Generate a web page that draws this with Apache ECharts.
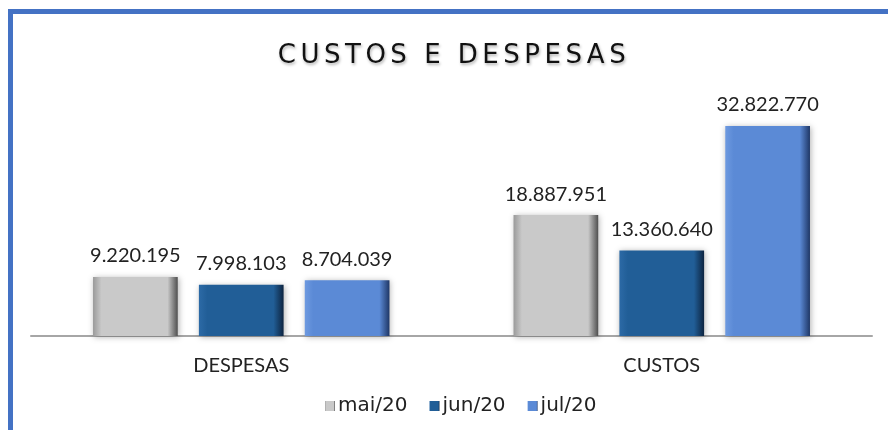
<!DOCTYPE html>
<html>
<head>
<meta charset="utf-8">
<script src="https://cdn.jsdelivr.net/npm/echarts@6/dist/echarts.min.js"></script>
<style>
  body { margin: 0; background: #fff; }
  #wrap { position: relative; width: 888px; height: 430px; overflow: hidden; }
  #frame { position: absolute; left: 8px; top: 9px; width: 900px; height: 440px;
           border-left: 5px solid #4472c4; border-top: 5px solid #4472c4; }
  #title { position: absolute; left: 18px; top: 38px; width: 872px; text-align: center;
           font-family: 'DejaVu Sans', sans-serif; font-size: 26px; line-height: 32px;
           letter-spacing: 4.5px; color: #111; text-shadow: 1px 2px 3px rgba(0,0,0,0.3); }
  #chart { position: absolute; left: 0; top: 0; width: 888px; height: 430px; }
</style>
</head>
<body>
<div id="wrap">
  <div id="frame"></div>
  <div id="chart"></div>
  <div id="title">CUSTOS E DESPESAS</div>
</div>
<script>
const categories = ['DESPESAS', 'CUSTOS']
const maiValues = [9220195, 18887951]
const junValues = [7998103, 13360640]
const julValues = [8704039, 32822770]
const seriesNames = ['mai/20', 'jun/20', 'jul/20']

function fmt(v) {
  return String(v).replace(/\B(?=(\d{3})+(?!\d))/g, '.')
}

function bevel(edgeL, face, edgeR) {
  return new echarts.graphic.LinearGradient(0, 0, 1, 0, [
    { offset: 0, color: edgeL },
    { offset: 0.1, color: face },
    { offset: 0.88, color: face },
    { offset: 1, color: edgeR }
  ])
}

const styles = [
  bevel('#9a9a9a', '#c9c9c9', '#4f4f4f'),
  bevel('#2c6aa6', '#215e97', '#0d2440'),
  bevel('#6e9ae0', '#5b8ad6', '#1f3766')
]
const data = [maiValues, junValues, julValues]

const chart = echarts.init(document.getElementById('chart'))
chart.setOption({
  animation: false,
  grid: { left: 31, right: 16, top: 80, bottom: 94 },
  legend: {
    bottom: 9,
    left: 320,
    icon: 'rect',
    itemWidth: 10,
    itemHeight: 10,
    itemGap: 22,
    textStyle: { fontFamily: 'DejaVu Sans', fontSize: 20, color: '#222', padding: [0, 0, 0, -2] },
    data: seriesNames
  },
  xAxis: {
    type: 'category',
    data: categories,
    axisLine: { lineStyle: { color: '#a6a6a6', width: 2 } },
    axisTick: { show: false },
    axisLabel: { fontFamily: 'Lato', fontSize: 20, color: '#222', margin: 20 }
  },
  yAxis: {
    type: 'value',
    min: 0,
    max: 40000000,
    show: false,
    splitLine: { show: false }
  },
  series: seriesNames.map((name, i) => ({
    name: name,
    type: 'bar',
    data: data[i],
    barGap: '25%',
    barCategoryGap: '29.5%',
    itemStyle: {
      color: styles[i],
      shadowColor: 'rgba(0,0,0,0.3)',
      shadowBlur: 6,
      shadowOffsetX: 1,
      shadowOffsetY: 1
    },
    label: {
      show: true,
      position: 'top',
      distance: 11,
      fontFamily: 'Lato',
      fontSize: 20,
      color: '#222',
      formatter: p => fmt(p.value)
    }
  }))
})
</script>
</body>
</html>
